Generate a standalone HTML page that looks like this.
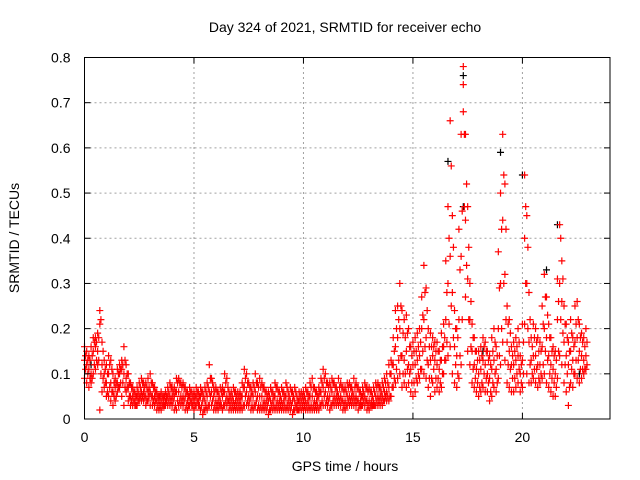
<!DOCTYPE html>
<html><head><meta charset="utf-8"><style>
body{margin:0;background:#fff}
svg{display:block;font-family:"Liberation Sans",sans-serif}
</style></head><body>
<svg width="640" height="480">
<g id="grid"></g>
<g id="marks"></g>
<rect x="84.5" y="57.5" width="525.5" height="361.5" fill="none" stroke="#000"/>
<g id="ticks"></g>
<text x="345" y="32" text-anchor="middle" font-size="14">Day 324 of 2021, SRMTID for receiver echo</text>
<text x="345" y="471" text-anchor="middle" font-size="14">GPS time / hours</text>
<text transform="translate(19,238) rotate(-90)" text-anchor="middle" font-size="14">SRMTID / TECUs</text>
</svg>
<script>
const xTicks=[0,5,10,15,20];
const yTicks=[0,0.1,0.2,0.3,0.4,0.5,0.6,0.7,0.8];
const yTickLabels=["0","0.1","0.2","0.3","0.4","0.5","0.6","0.7","0.8"];
const tStart=0, tStep=0.1, tStartB=0.05;
const seriesHigh=[0.16,0.15,0.14,0.16,0.18,0.18,0.19,0.24,0.17,0.13,
0.12,0.14,0.13,0.10,0.09,0.11,0.12,0.13,0.16,0.12,
0.10,0.08,0.07,0.06,0.07,0.08,0.09,0.08,0.08,0.09,
0.10,0.08,0.07,0.06,0.05,0.06,0.05,0.06,0.07,0.08,
0.07,0.07,0.09,0.09,0.08,0.08,0.07,0.06,0.07,0.06,
0.06,0.07,0.06,0.07,0.06,0.07,0.08,0.12,0.09,0.07,
0.07,0.06,0.07,0.07,0.10,0.09,0.06,0.06,0.07,0.06,
0.06,0.06,0.08,0.11,0.10,0.08,0.07,0.08,0.10,0.08,
0.09,0.08,0.07,0.06,0.06,0.07,0.06,0.08,0.07,0.06,
0.07,0.06,0.08,0.06,0.07,0.06,0.07,0.05,0.06,0.06,
0.06,0.07,0.06,0.08,0.09,0.07,0.06,0.07,0.09,0.11,
0.10,0.08,0.08,0.09,0.08,0.07,0.09,0.08,0.07,0.07,
0.08,0.08,0.07,0.09,0.08,0.07,0.06,0.07,0.08,0.07,
0.07,0.06,0.07,0.08,0.08,0.07,0.08,0.09,0.10,0.12,
0.13,0.18,0.24,0.25,0.30,0.24,0.22,0.23,0.20,0.16,
0.17,0.18,0.19,0.20,0.27,0.34,0.29,0.20,0.19,0.18,
0.17,0.17,0.15,0.19,0.21,0.35,0.47,0.66,0.45,0.24,
0.20,0.42,0.63,0.78,0.63,0.47,0.30,0.21,0.18,0.15,
0.15,0.16,0.18,0.17,0.15,0.14,0.18,0.20,0.16,0.37,
0.50,0.63,0.52,0.25,0.22,0.16,0.17,0.18,0.20,0.14,
0.21,0.54,0.45,0.28,0.18,0.21,0.20,0.18,0.17,0.25,
0.32,0.27,0.21,0.18,0.16,0.15,0.31,0.43,0.35,0.25,
0.21,0.17,0.22,0.18,0.25,0.26,0.21,0.19,0.18,0.20];
const seriesMid=[0.13,0.12,0.11,0.10,0.15,0.16,0.15,0.21,0.12,0.10,
0.08,0.10,0.08,0.06,0.07,0.08,0.10,0.11,0.10,0.09,
0.07,0.05,0.05,0.04,0.05,0.05,0.06,0.06,0.05,0.06,
0.06,0.05,0.05,0.04,0.04,0.04,0.04,0.04,0.05,0.05,
0.05,0.05,0.06,0.06,0.05,0.05,0.05,0.04,0.05,0.04,
0.04,0.05,0.04,0.05,0.04,0.04,0.05,0.06,0.06,0.05,
0.04,0.04,0.04,0.05,0.06,0.05,0.04,0.04,0.04,0.04,
0.04,0.04,0.05,0.07,0.06,0.05,0.05,0.05,0.06,0.05,
0.05,0.05,0.04,0.04,0.04,0.04,0.04,0.05,0.04,0.04,
0.04,0.04,0.05,0.04,0.04,0.04,0.04,0.03,0.04,0.04,
0.04,0.04,0.04,0.05,0.05,0.04,0.04,0.05,0.06,0.07,
0.06,0.05,0.05,0.06,0.05,0.05,0.05,0.05,0.04,0.04,
0.05,0.05,0.05,0.05,0.05,0.04,0.04,0.05,0.05,0.04,
0.04,0.04,0.04,0.05,0.05,0.05,0.05,0.06,0.06,0.07,
0.10,0.12,0.16,0.18,0.20,0.14,0.13,0.15,0.12,0.11,
0.12,0.12,0.13,0.14,0.20,0.22,0.18,0.12,0.13,0.14,
0.13,0.12,0.11,0.13,0.16,0.22,0.30,0.36,0.28,0.16,
0.14,0.22,0.36,0.74,0.44,0.31,0.22,0.15,0.12,0.11,
0.10,0.11,0.13,0.12,0.10,0.09,0.11,0.13,0.11,0.20,
0.30,0.44,0.32,0.17,0.15,0.12,0.12,0.13,0.14,0.10,
0.13,0.40,0.30,0.17,0.13,0.14,0.14,0.12,0.12,0.16,
0.20,0.18,0.14,0.12,0.11,0.10,0.22,0.30,0.26,0.17,
0.14,0.12,0.15,0.13,0.17,0.18,0.15,0.14,0.13,0.14];
const seriesLow=[0.09,0.08,0.07,0.08,0.10,0.11,0.12,0.02,0.06,0.07,
0.05,0.05,0.04,0.03,0.04,0.06,0.07,0.05,0.03,0.06,
0.04,0.03,0.03,0.03,0.03,0.04,0.04,0.04,0.03,0.04,
0.03,0.03,0.03,0.02,0.02,0.02,0.03,0.03,0.03,0.03,
0.03,0.02,0.02,0.03,0.03,0.03,0.02,0.02,0.03,0.03,
0.02,0.03,0.03,0.02,0.01,0.02,0.02,0.03,0.03,0.02,
0.02,0.02,0.03,0.02,0.03,0.03,0.02,0.02,0.02,0.02,
0.02,0.02,0.02,0.03,0.03,0.03,0.02,0.02,0.03,0.02,
0.02,0.02,0.02,0.02,0.01,0.02,0.02,0.02,0.02,0.02,
0.02,0.02,0.02,0.02,0.02,0.01,0.02,0.02,0.02,0.02,
0.02,0.02,0.02,0.02,0.02,0.02,0.02,0.02,0.03,0.03,
0.03,0.03,0.02,0.03,0.03,0.03,0.03,0.03,0.02,0.02,
0.03,0.03,0.03,0.03,0.03,0.02,0.03,0.03,0.03,0.02,
0.02,0.03,0.03,0.03,0.03,0.03,0.03,0.04,0.04,0.04,
0.05,0.07,0.08,0.09,0.10,0.07,0.08,0.07,0.08,0.06,
0.05,0.06,0.08,0.09,0.11,0.10,0.09,0.07,0.05,0.08,
0.06,0.07,0.06,0.07,0.10,0.13,0.14,0.16,0.10,0.08,
0.07,0.09,0.12,0.68,0.27,0.15,0.12,0.08,0.07,0.06,
0.05,0.06,0.07,0.06,0.06,0.04,0.05,0.07,0.06,0.09,
0.12,0.17,0.13,0.08,0.07,0.06,0.06,0.07,0.08,0.06,
0.07,0.21,0.10,0.08,0.08,0.09,0.08,0.07,0.08,0.09,
0.10,0.08,0.07,0.06,0.05,0.05,0.09,0.14,0.12,0.08,
0.06,0.03,0.08,0.07,0.10,0.09,0.08,0.09,0.10,0.11];
const seriesUpperB=[0.14,0.13,0.13,0.14,0.17,0.17,0.18,0.22,0.15,0.11,
0.10,0.12,0.11,0.08,0.08,0.10,0.11,0.12,0.13,0.10,
0.08,0.07,0.06,0.05,0.06,0.07,0.08,0.07,0.07,0.07,
0.08,0.07,0.06,0.05,0.05,0.05,0.05,0.05,0.06,0.07,
0.06,0.06,0.08,0.08,0.07,0.07,0.06,0.05,0.06,0.05,
0.05,0.06,0.05,0.06,0.05,0.06,0.07,0.09,0.08,0.06,
0.06,0.05,0.06,0.06,0.08,0.07,0.05,0.05,0.06,0.05,
0.05,0.05,0.07,0.09,0.08,0.07,0.06,0.07,0.08,0.07,
0.07,0.07,0.06,0.05,0.05,0.06,0.05,0.07,0.06,0.05,
0.06,0.05,0.07,0.05,0.06,0.05,0.06,0.04,0.05,0.05,
0.05,0.06,0.05,0.07,0.07,0.06,0.05,0.06,0.08,0.09,
0.08,0.07,0.07,0.08,0.07,0.06,0.07,0.07,0.06,0.06,
0.07,0.07,0.06,0.07,0.07,0.06,0.05,0.06,0.07,0.06,
0.06,0.05,0.06,0.07,0.07,0.06,0.07,0.08,0.08,0.10,
0.12,0.15,0.20,0.22,0.25,0.19,0.18,0.19,0.16,0.14,
0.15,0.15,0.16,0.17,0.23,0.28,0.24,0.16,0.16,0.16,
0.15,0.15,0.13,0.16,0.18,0.28,0.40,0.56,0.38,0.20,
0.18,0.33,0.46,0.63,0.52,0.38,0.26,0.18,0.15,0.13,
0.13,0.14,0.16,0.15,0.13,0.12,0.15,0.17,0.14,0.29,
0.42,0.54,0.42,0.21,0.19,0.14,0.15,0.16,0.17,0.12,
0.17,0.47,0.38,0.22,0.16,0.18,0.17,0.15,0.15,0.21,
0.27,0.23,0.18,0.15,0.14,0.13,0.26,0.40,0.31,0.21,
0.18,0.15,0.19,0.16,0.21,0.22,0.18,0.17,0.16,0.17];
const seriesLowerB=[0.11,0.10,0.09,0.09,0.12,0.13,0.13,0.10,0.09,0.08,
0.06,0.07,0.06,0.05,0.05,0.07,0.08,0.08,0.07,0.07,
0.05,0.04,0.04,0.03,0.04,0.05,0.05,0.05,0.04,0.05,
0.05,0.04,0.04,0.03,0.03,0.03,0.03,0.04,0.04,0.04,
0.04,0.03,0.04,0.04,0.04,0.04,0.03,0.03,0.04,0.03,
0.03,0.04,0.03,0.03,0.02,0.03,0.03,0.05,0.04,0.03,
0.03,0.03,0.03,0.03,0.04,0.04,0.03,0.03,0.03,0.03,
0.03,0.03,0.03,0.05,0.04,0.04,0.03,0.03,0.04,0.03,
0.03,0.03,0.03,0.03,0.02,0.03,0.03,0.03,0.03,0.03,
0.03,0.03,0.03,0.03,0.03,0.02,0.03,0.02,0.03,0.03,
0.03,0.03,0.03,0.03,0.03,0.03,0.03,0.03,0.04,0.05,
0.04,0.04,0.03,0.04,0.04,0.04,0.04,0.04,0.03,0.03,
0.04,0.04,0.04,0.04,0.04,0.03,0.03,0.04,0.04,0.03,
0.03,0.03,0.03,0.04,0.04,0.04,0.04,0.05,0.05,0.05,
0.07,0.09,0.11,0.13,0.14,0.10,0.10,0.11,0.10,0.08,
0.08,0.09,0.10,0.11,0.15,0.16,0.13,0.09,0.09,0.11,
0.09,0.09,0.08,0.10,0.13,0.17,0.21,0.25,0.18,0.12,
0.10,0.14,0.22,0.47,0.34,0.22,0.16,0.11,0.09,0.08,
0.07,0.08,0.10,0.09,0.08,0.06,0.08,0.10,0.08,0.14,
0.20,0.30,0.22,0.12,0.11,0.09,0.09,0.10,0.11,0.08,
0.10,0.30,0.20,0.12,0.10,0.11,0.11,0.09,0.10,0.12,
0.15,0.13,0.10,0.09,0.08,0.07,0.15,0.22,0.19,0.12,
0.10,0.07,0.11,0.10,0.13,0.13,0.11,0.11,0.11,0.12];
const blackTimes=[16.6,17.3,17.3,19.0,20.0,21.1,21.6,22.6,18.2,0.3];
const blackValues=[0.57,0.76,0.47,0.59,0.54,0.33,0.43,0.10,0.15,0.12];

const X0=84.5,X1=610,Y0=419,Y1=57.5,XMAX=24,YMAX=0.8;
const sx=t=>X0+(X1-X0)*t/XMAX;
const sy=v=>Y0-(Y0-Y1)*v/YMAX;
const NS="http://www.w3.org/2000/svg";
const grid=document.getElementById('grid'),ticks=document.getElementById('ticks'),marks=document.getElementById('marks');
function mk(tag,at,parent){const e=document.createElementNS(NS,tag);for(const k in at)e.setAttribute(k,at[k]);parent.appendChild(e);return e;}
xTicks.forEach(t=>{const x=sx(t);
 if(t>0){const g=mk('line',{x1:x,y1:Y0,x2:x,y2:Y1,stroke:'#a0a0a0','stroke-dasharray':'2,3'},grid);
 
 }
 mk('line',{x1:x,y1:Y0,x2:x,y2:Y0-6,stroke:'#000'},ticks);
 mk('line',{x1:x,y1:Y1,x2:x,y2:Y1+6,stroke:'#000'},ticks);
 const l=mk('text',{x:x,y:Y0+23,'text-anchor':'middle','font-size':14},ticks);l.textContent=t;
 
 
});
yTicks.forEach((v,i)=>{const y=sy(v);
 if(v>0&&v<YMAX){const g=mk('line',{x1:X0,y1:y,x2:X1,y2:y,stroke:'#a0a0a0','stroke-dasharray':'2,3'},grid);
 
 }
 mk('line',{x1:X0,y1:y,x2:X0+6,y2:y,stroke:'#000'},ticks);
 mk('line',{x1:X1,y1:y,x2:X1-6,y2:y,stroke:'#000'},ticks);
 const l=mk('text',{x:X0-14,y:y+5,'text-anchor':'end','font-size':14},ticks);l.textContent=yTickLabels[i];
 
 
});
function plus(t,v,col,name){const x=sx(t),y=sy(v);
 const p=mk('path',{d:`M${x-3.5},${y}H${x+3.5}M${x},${y-3.5}V${y+3.5}`,stroke:col,'stroke-width':1.2,fill:'none'},marks);
 
 }
blackTimes.forEach((t,i)=>plus(t,blackValues[i],'#000','black-point'));
[seriesHigh,seriesMid,seriesLow].forEach(s=>s.forEach((v,i)=>plus(tStart+i*tStep,v,'#ff0000','red-point')));
[seriesUpperB,seriesLowerB].forEach(s=>s.forEach((v,i)=>plus(tStartB+i*tStep,v,'#ff0000','red-point')));
</script>
</body></html>
